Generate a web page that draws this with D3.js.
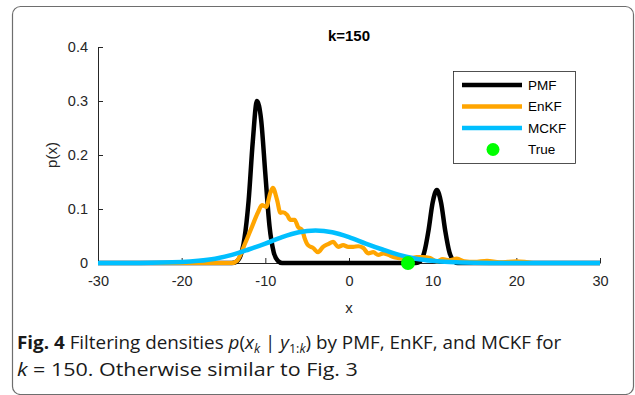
<!DOCTYPE html>
<html>
<head>
<meta charset="utf-8">
<script src="https://cdn.jsdelivr.net/npm/d3@7"></script>
<style>
  html, body { margin: 0; padding: 0; background: #fff; }
  svg { display: block; }
</style>
</head>
<body>
<svg id="chart" width="635" height="395"></svg>
<script>
// density estimates, [x, p(x)]
const pmfPoints = [
  [-30, 0], [-14, 0], [-13.5, 0.002], [-13, 0.012], [-12.5, 0.045], [-12, 0.115],
  [-11.5, 0.225], [-11, 0.3], [-10.5, 0.265], [-10, 0.165], [-9.5, 0.068],
  [-9, 0.02], [-8.5, 0.004], [-8, 0], [8, 0], [8.5, 0.003], [9, 0.02],
  [9.5, 0.06], [10, 0.112], [10.5, 0.135], [11, 0.112], [11.5, 0.06],
  [12, 0.02], [12.5, 0.004], [13, 0], [30, 0]
];
const enkfPoints = [
  [-30, 0], [-14, 0], [-13.4, 0.004], [-12.4, 0.037], [-11.6, 0.067], [-10.9, 0.093],
  [-10.4, 0.107], [-9.9, 0.104], [-9.4, 0.13], [-9.1, 0.139], [-8.6, 0.117],
  [-8.2, 0.093], [-7.9, 0.094], [-7.4, 0.089], [-7.0, 0.08], [-6.5, 0.08],
  [-6.1, 0.067], [-5.6, 0.061], [-5.3, 0.046], [-4.9, 0.033], [-4.3, 0.028],
  [-3.7, 0.02], [-3.1, 0.03], [-2.5, 0.035], [-1.9, 0.039], [-1.3, 0.03],
  [-0.7, 0.033], [-0.1, 0.03], [0.5, 0.03], [1.1, 0.031], [1.7, 0.028],
  [2.3, 0.018], [2.9, 0.02], [3.5, 0.015], [4.1, 0.018], [4.7, 0.015],
  [5.3, 0.011], [6.1, 0.009], [6.9, 0.007], [7.5, 0.009], [8.1, 0.011],
  [8.8, 0.011], [9.7, 0.009], [10.5, 0.003], [11.2, 0.007], [12, 0.005],
  [12.9, 0.008], [13.8, 0.003], [15, 0.002], [16.5, 0.004], [18, 0.001],
  [20, 0.003], [21, 0.002], [22, 0], [30, 0]
];
const mckfPoints = [
  [-30, 0], [-25, 0.0002], [-20, 0.0018], [-18, 0.004], [-16, 0.008], [-14, 0.015],
  [-12, 0.025], [-10, 0.036], [-8, 0.048], [-6, 0.057], [-4, 0.06], [-2, 0.057],
  [0, 0.048], [2, 0.036], [4, 0.025], [6, 0.015], [8, 0.008], [10, 0.004],
  [12, 0.0017], [15, 0.0003], [20, 0], [30, 0]
];
const truePoint = [7.05, 0];

const seriesNames = ["PMF", "EnKF", "MCKF", "True"];
const seriesColors = ["#000000", "#ffa500", "#00bfff", "#00ff00"];
const xTicks = [-30, -20, -10, 0, 10, 20, 30];
const yTicks = [0, 0.1, 0.2, 0.3, 0.4];

const margin = { top: 47, right: 35, bottom: 132, left: 98 };
const svgWidth = 635, svgHeight = 395;
const width = svgWidth - margin.left - margin.right;
const height = svgHeight - margin.top - margin.bottom;

const baseSvg = d3.select("#chart");
const axisColor = "#262626";
const font = "'Liberation Sans', Arial, sans-serif";

// outer frame of the figure panel
baseSvg.append("rect")
  .attr("x", 12.5).attr("y", 6.5)
  .attr("width", 621).attr("height", 388)
  .attr("rx", 8)
  .attr("fill", "none")
  .attr("stroke", "#6e6e6e")
  .attr("stroke-width", 1.2);

const svg = baseSvg.append("g")
  .attr("transform", `translate(${margin.left},${margin.top})`);

const x = d3.scaleLinear().domain([-30, 30]).range([0, width]);
const y = d3.scaleLinear().domain([0, 0.4]).range([height, 0]);

const xAxis = svg.append("g")
  .attr("transform", `translate(0,${height})`)
  .call(d3.axisBottom(x).tickValues(xTicks).tickSizeInner(-5).tickSizeOuter(0).tickPadding(13)
    .tickFormat(d => String(d)));
const yAxis = svg.append("g")
  .call(d3.axisLeft(y).tickValues(yTicks).tickSizeInner(-5).tickSizeOuter(0).tickPadding(10)
    .tickFormat(d => d === 0 ? "0" : d3.format(".1f")(d)));

[xAxis, yAxis].forEach(g => {
  g.select(".domain").attr("stroke", axisColor).attr("stroke-width", 1);
  g.selectAll(".tick line").attr("stroke", axisColor);
  g.selectAll(".tick text")
    .attr("fill", axisColor)
    .style("font-family", font)
    .style("font-size", "14.5px");
});

const line = d3.line()
  .x(d => x(d[0]))
  .y(d => y(d[1]))
  .curve(d3.curveMonotoneX);

const series = [pmfPoints, enkfPoints, mckfPoints];
const widths = [4.5, 4.2, 4.5];
series.forEach((pts, i) => {
  svg.append("path")
    .datum(pts)
    .attr("fill", "none")
    .attr("stroke", seriesColors[i])
    .attr("stroke-width", widths[i])
    .attr("stroke-linejoin", "round")
    .attr("d", line);
});

svg.append("circle")
  .attr("cx", x(truePoint[0]))
  .attr("cy", y(truePoint[1]))
  .attr("r", 7)
  .attr("fill", seriesColors[3]);

// title and axis labels
svg.append("text")
  .attr("x", width / 2)
  .attr("y", -6)
  .attr("text-anchor", "middle")
  .style("font-family", font)
  .style("font-size", "15px")
  .style("font-weight", "bold")
  .attr("fill", "#000")
  .text("k=150");

svg.append("text")
  .attr("x", width / 2)
  .attr("y", height + 50)
  .attr("text-anchor", "middle")
  .style("font-family", font)
  .style("font-size", "15px")
  .attr("fill", axisColor)
  .text("x");

svg.append("text")
  .attr("transform", "rotate(-90)")
  .attr("x", -(155 - margin.top))
  .attr("y", -41)
  .attr("text-anchor", "middle")
  .style("font-family", font)
  .style("font-size", "15px")
  .attr("fill", axisColor)
  .text("p(x)");

// legend
const legend = baseSvg.append("g").attr("transform", "translate(453.5,71.5)");
legend.append("rect")
  .attr("width", 122).attr("height", 92)
  .attr("fill", "#fff")
  .attr("stroke", axisColor)
  .attr("stroke-width", 0.8);

seriesNames.forEach((name, i) => {
  const ly = 13.5 + i * 21.5;
  if (i < 3) {
    legend.append("line")
      .attr("x1", 8.5).attr("x2", 68.5)
      .attr("y1", ly).attr("y2", ly)
      .attr("stroke", seriesColors[i])
      .attr("stroke-width", 4.5);
  } else {
    legend.append("circle")
      .attr("cx", 39.5).attr("cy", ly)
      .attr("r", 6.5)
      .attr("fill", seriesColors[i]);
  }
  legend.append("text")
    .attr("x", 74.5)
    .attr("y", ly)
    .attr("dy", "0.35em")
    .style("font-family", font)
    .style("font-size", "13.5px")
    .attr("fill", "#000")
    .text(name);
});

// caption
const capFont = "'Open Sans', 'Noto Sans', sans-serif";
const cap1 = baseSvg.append("text")
  .attr("x", 0).attr("y", 0)
  .style("font-family", capFont)
  .style("font-size", "18px")
  .attr("fill", "#1a1a1a");
cap1.append("tspan").style("font-weight", "bold").text("Fig. 4");
cap1.append("tspan").text(" Filtering densities ");
cap1.append("tspan").style("font-style", "italic").text("p");
cap1.append("tspan").text("(");
cap1.append("tspan").style("font-style", "italic").text("x");
cap1.append("tspan").style("font-style", "italic").style("font-size", "12px").attr("dy", 4).text("k");
cap1.append("tspan").attr("dy", -4).text(" | ");
cap1.append("tspan").style("font-style", "italic").text("y");
cap1.append("tspan").style("font-size", "12px").attr("dy", 4).text("1:");
cap1.append("tspan").style("font-style", "italic").style("font-size", "12px").text("k");
cap1.append("tspan").attr("dy", -4).text(") by PMF, EnKF, and MCKF for");

const cap2 = baseSvg.append("text")
  .attr("x", 0).attr("y", 0)
  .style("font-family", capFont)
  .style("font-size", "18px")
  .attr("fill", "#1a1a1a");
cap2.append("tspan").style("font-style", "italic").text("k");
cap2.append("tspan").text(" = 150. Otherwise similar to Fig. 3");

// squeeze the caption lines to the width they take in the figure
function fitLine(sel, x0, baseline, target) {
  const w = sel.node().getComputedTextLength();
  const s = target / w;
  sel.attr("transform", `translate(${x0},${baseline}) scale(${s},1)`);
}
fitLine(cap1, 17, 349, 545);
fitLine(cap2, 17, 376, 341);
</script>
</body>
</html>
